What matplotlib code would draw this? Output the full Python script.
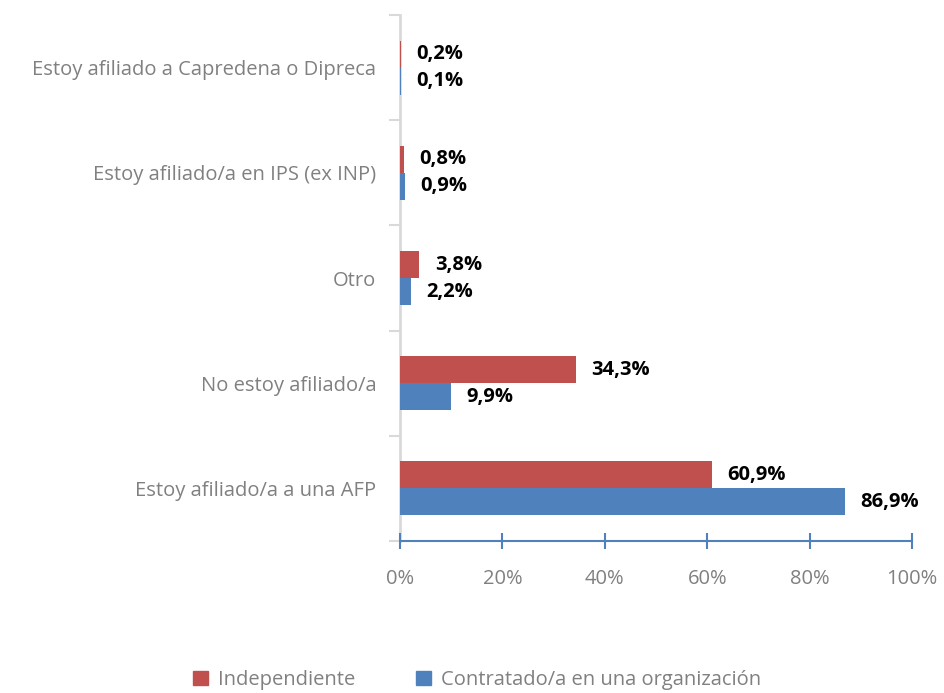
import matplotlib
matplotlib.use('Agg')
import matplotlib.pyplot as plt
import numpy as np
from matplotlib.patches import Patch

categories = ['Estoy afiliado a Capredena o Dipreca', 'Estoy afiliado/a en IPS (ex INP)',
              'Otro', 'No estoy afiliado/a', 'Estoy afiliado/a a una AFP']
independiente = [0.2, 0.8, 3.8, 34.3, 60.9]
contratado = [0.1, 0.9, 2.2, 9.9, 86.9]
series_names = ['Independiente', 'Contratado/a en una organización']
xticks = [0, 20, 40, 60, 80, 100]

RED = '#C0504D'
BLUE = '#4F81BD'
GREY = '#808080'

plt.rcParams['font.family'] = ['Open Sans', 'DejaVu Sans']

fig = plt.figure(figsize=(9.45, 6.93), dpi=100)
ax = fig.add_axes([0.4233, 0.2193, 0.5418, 0.7590])

y = np.arange(len(categories))
h = 0.257
ax.barh(y - h / 2, independiente, height=h, color=RED, zorder=3, clip_on=False)
ax.barh(y + h / 2, contratado, height=h, color=BLUE, zorder=3, clip_on=False)

for yi, v in zip(y, independiente):
  ax.text(v + 3.0, yi - h / 2, f'{v:.1f}%'.replace('.', ','), va='center', ha='left',
          fontsize=14.5, fontweight='bold', color='black')
for yi, v in zip(y, contratado):
  ax.text(v + 3.0, yi + h / 2, f'{v:.1f}%'.replace('.', ','), va='center', ha='left',
          fontsize=14.5, fontweight='bold', color='black')

ax.set_xlim(0, 100)
ax.set_ylim(len(categories) - 0.5, -0.5)
ax.set_xticks(xticks)
ax.set_xticklabels([f'{t}%' for t in xticks], fontsize=14.5, color=GREY)
ax.set_yticks(y)
ax.set_yticklabels(categories, fontsize=14.5, color=GREY)
ax.tick_params(axis='y', length=0, pad=17)
ax.set_yticks(np.arange(-0.5, len(categories) + 0.5, 1), minor=True)
ax.tick_params(axis='y', which='minor', length=8, color='#D9D9D9', width=1.5)
ax.tick_params(axis='x', direction='inout', length=12, color=BLUE, width=1.5, pad=14)

for side in ['top', 'right']:
  ax.spines[side].set_visible(False)
ax.spines['bottom'].set_color(BLUE)
ax.spines['bottom'].set_linewidth(1.5)
ax.spines['left'].set_color('#D9D9D9')
ax.spines['left'].set_linewidth(2)
ax.spines['left'].set_zorder(1)

handles = [Patch(color=RED), Patch(color=BLUE)]
fig.legend(handles, series_names, loc='lower center', bbox_to_anchor=(0.505, -0.022), ncol=2,
           frameon=False, fontsize=14.5, labelcolor=GREY, handlelength=0.75, handleheight=0.75,
           handletextpad=0.5, columnspacing=3.0)

fig.savefig('out.png', dpi=100)
